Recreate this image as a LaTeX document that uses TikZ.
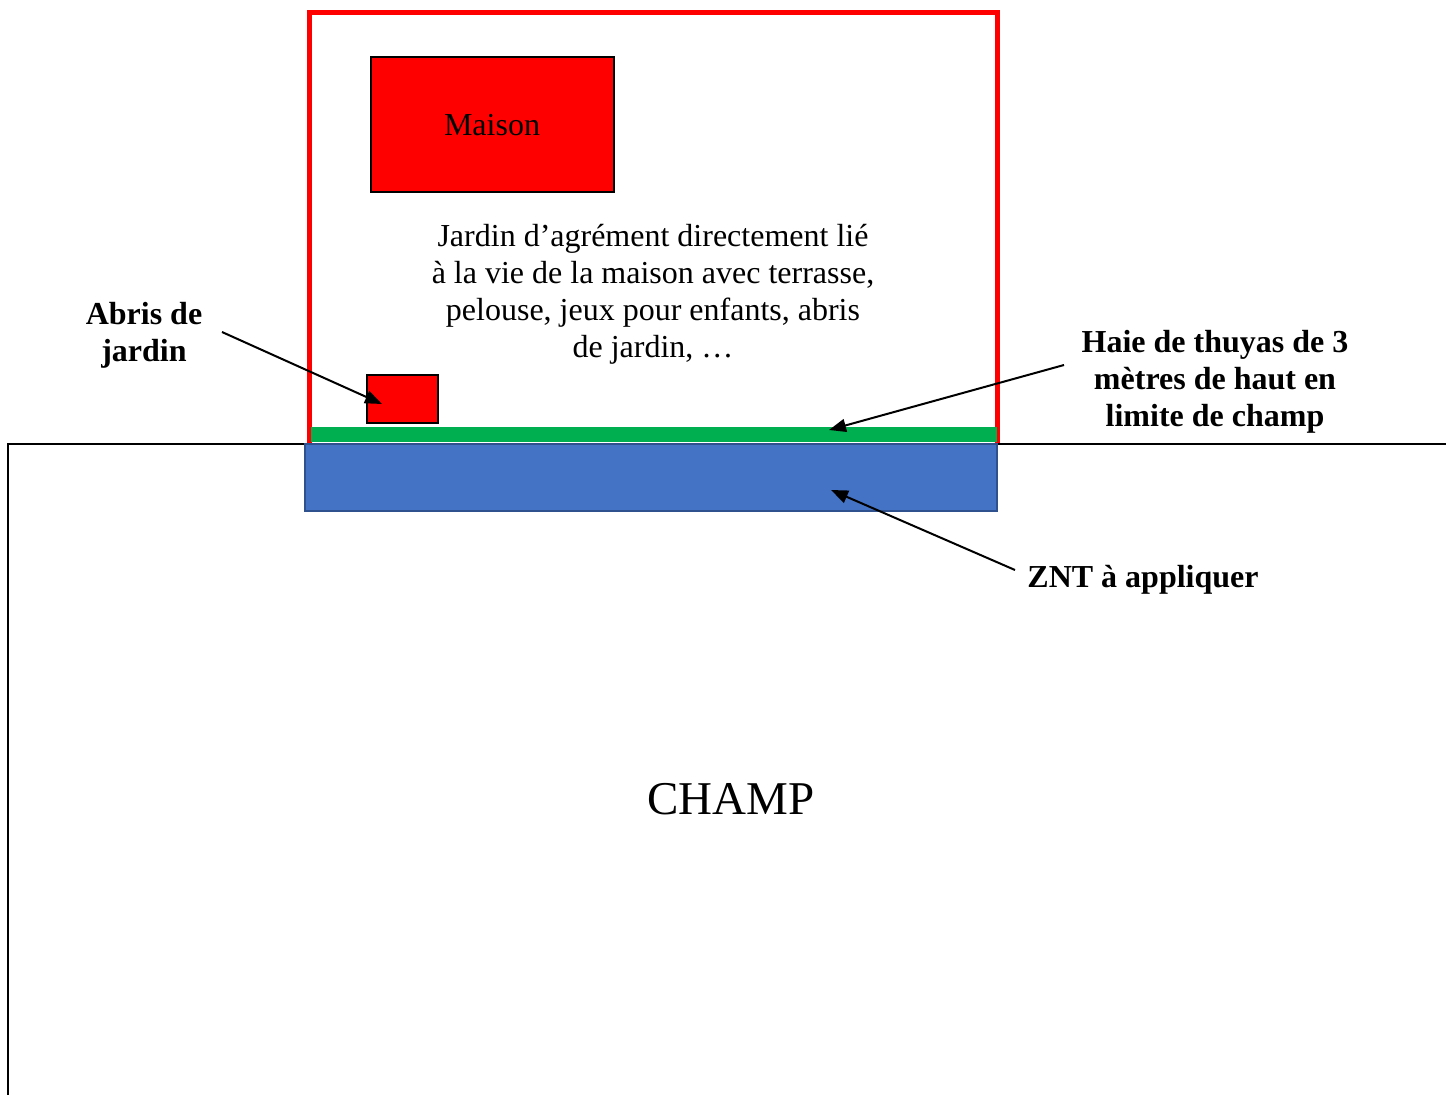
\documentclass[tikz,border=0pt]{standalone}
\usepackage{fontspec}
\setmainfont{Liberation Serif}
\usetikzlibrary{arrows.meta}
\definecolor{znt}{HTML}{4472C4}
\definecolor{zntb}{HTML}{2F528F}
\definecolor{haie}{HTML}{00B050}
\begin{document}
\begin{tikzpicture}[x=1pt,y=-1pt,
  txt/.style={font=\fontsize{32}{37}\selectfont, align=center, inner sep=0pt},
  lbl/.style={font=\fontsize{32}{37}\selectfont\bfseries, align=center, inner sep=0pt},
  arr/.style={line width=2pt, -{Triangle[length=17pt,width=13pt]}},
  redbox/.style={draw=black, line width=1.8pt, fill=red}]
\useasboundingbox (0,0) rectangle (1446,1095);
% field
\draw[line width=2.2pt] (1446,444) -- (8,444) -- (8,1095);
% garden boundary
\draw[red, line width=5pt] (309,443) |- (997,12) -- (997,443);
% hedge
\fill[haie] (311,427) rectangle (997,442);
% ZNT
\draw[zntb, line width=1.8pt, fill=znt] (305,444) rectangle (997,511);
% house
\node[redbox, minimum width=243pt, minimum height=135pt, anchor=north west, inner sep=0pt] (maison) at (370,56) {};
\node[txt] (maisontxt) at (492,125) {Maison};
% shed
\node[redbox, minimum width=71pt, minimum height=48pt, anchor=north west, inner sep=0pt] (abri) at (366,374) {};
\coordinate (abritip) at (382,404);
\coordinate (haietip) at (829,430);
\coordinate (znttip) at (831,490);
% garden text
\node[txt] (jardin) at (653,294) {Jardin d’agrément directement lié\\à la vie de la maison avec terrasse,\\pelouse, jeux pour enfants, abris\\de jardin, …};
% labels
\node[lbl] (abrilbl) at (144,335) {Abris de\\jardin};
\node[lbl] (haielbl) at (1215,382) {Haie de thuyas de 3\\mètres de haut en\\limite de champ};
\node[lbl] (zntlbl) at (1143,580) {ZNT à appliquer};
\node[font=\fontsize{47}{54}\selectfont, inner sep=0pt] (champ) at (731,799) {CHAMP};
% arrows
\coordinate (a1) at (222,332);
\coordinate (a2) at (1064,365);
\coordinate (a3) at (1015,570);
\draw[arr] (a1) -- (abritip);
\draw[arr] (a2) -- (haietip);
\draw[arr] (a3) -- (znttip);
\end{tikzpicture}
\end{document}
